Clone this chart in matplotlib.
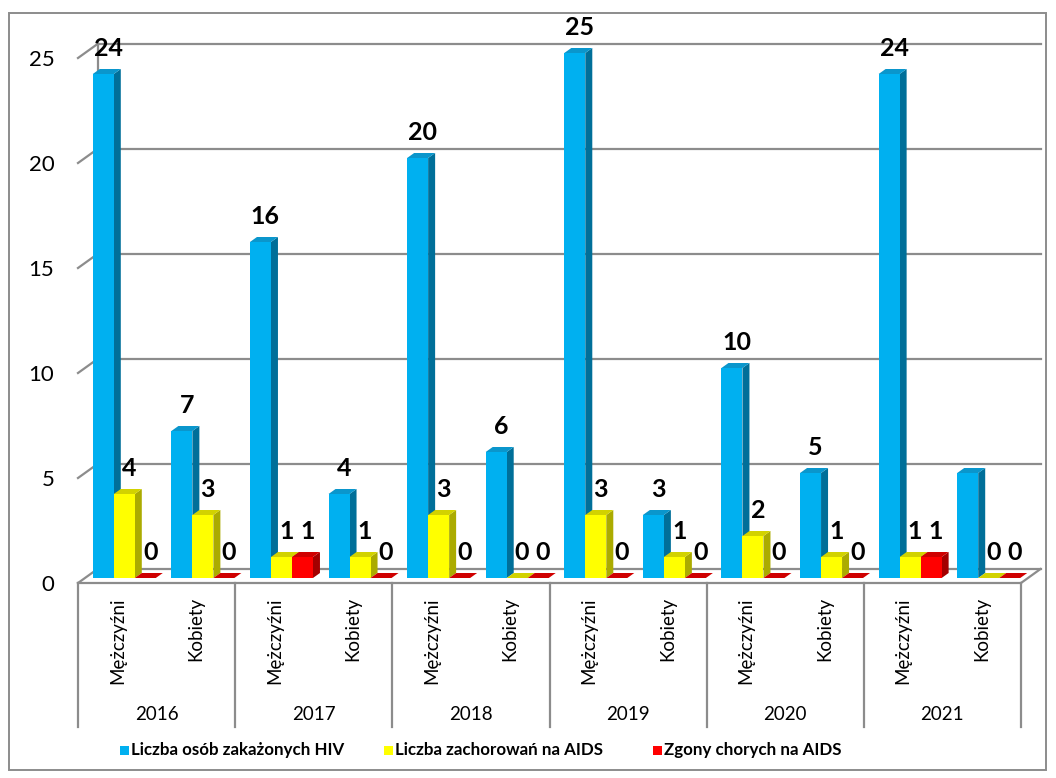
import matplotlib.pyplot as plt
from matplotlib.patches import Polygon, Rectangle

plt.rcParams['font.family'] = ['Lato', 'DejaVu Sans']

years = ['2016', '2017', '2018', '2019', '2020', '2021']
sexes = ['Mężczyźni', 'Kobiety']
hiv = [24, 7, 16, 4, 20, 6, 25, 3, 10, 5, 24, 5]
aids = [4, 3, 1, 1, 3, 0, 3, 1, 2, 1, 1, 0]
deaths = [0, 0, 1, 0, 0, 0, 0, 0, 0, 0, 1, 0]
series_names = ['Liczba osób zakażonych HIV', 'Liczba zachorowań na AIDS',
                'Zgony chorych na AIDS']
yticks = [0, 5, 10, 15, 20, 25]

# front, top, side shades for each series
shades = [('#00B0F0', '#0A96CC', '#006F99'),
          ('#FFFF00', '#D2D200', '#ABAB00'),
          ('#FF0000', '#CF0000', '#A30000')]

W, H = 1056, 778
fig = plt.figure(figsize=(W / 100, H / 100), dpi=100)

# front plane of the plot: x 78..1021 px, value 0 at y=583 px, 21 px per unit
x_left, x_right, y_zero, ppu = 78, 1021, 583, 21.0
cat_px = (x_right - x_left) / 12
ax = fig.add_axes([x_left / W, (H - y_zero) / H, (x_right - x_left) / W, 567 / H])
ax.set_xlim(-0.5, 11.5)
ax.set_ylim(0, 567 / ppu)
for s in ax.spines.values():
    s.set_visible(False)
ax.set_xticks([])
ax.set_yticks(yticks)
ax.tick_params(axis='y', length=0, pad=17, labelsize=16)

def px_x(p):
    return p / cat_px

def px_y(p):
    return p / ppu

# depth offsets
bx, by = px_x(7), px_y(5)        # bar plane
wx, wy = px_x(19.5), px_y(14)    # back wall
ddx, ddy = px_x(7), px_y(5)      # bar depth
bw = px_x(21)                    # bar width

grid = '#8C8C8C'
lw = 1.6

# back wall gridlines and left-side diagonals
for v in yticks:
    ax.plot([-0.5 + wx, 11.5 + wx], [v + wy, v + wy], color=grid, lw=lw,
            clip_on=False, zorder=1)
    ax.plot([-0.5, -0.5 + wx], [v, v + wy], color=grid, lw=lw,
            clip_on=False, zorder=1)
ax.plot([-0.5 + wx, -0.5 + wx], [wy, yticks[-1] + wy], color=grid, lw=lw,
        clip_on=False, zorder=1)

# floor edges
ax.plot([-0.5, 11.5], [0, 0], color=grid, lw=lw, clip_on=False, zorder=1)
ax.plot([11.5, 11.5 + wx], [0, wy], color=grid, lw=lw, clip_on=False, zorder=1)

# 3D bars, drawn left to right so neighbours hide the side faces
series = [hiv, aids, deaths]
z = 2
for i in range(12):
    for s, vals in enumerate(series):
        v = vals[i]
        x0 = i + bx - 1.5 * bw + s * bw
        x1 = x0 + bw
        y0, y1 = by, by + v
        front, top, side = shades[s]
        ax.add_patch(Polygon([(x1, y0), (x1 + ddx, y0 + ddy), (x1 + ddx, y1 + ddy),
                              (x1, y1)], closed=True, fc=side, ec='none', zorder=z,
                             clip_on=False))
        ax.add_patch(Polygon([(x0, y1), (x1, y1), (x1 + ddx, y1 + ddy),
                              (x0 + ddx, y1 + ddy)], closed=True, fc=top, ec='none',
                             zorder=z + 0.1, clip_on=False))
        if v > 0:
            ax.add_patch(Rectangle((x0, y0), bw, v, fc=front, ec='none',
                                   zorder=z + 0.2, clip_on=False))
        z += 0.3
        if s == 0 and i == 11:
            continue
        ax.annotate(str(v), (x0 + bw / 2 + ddx / 2, y1), xytext=(1, 13),
                    textcoords='offset points', ha='center', va='baseline',
                    fontsize=18, fontweight='bold', zorder=50)

# category table under the floor
tbl_bottom = px_y(y_zero - 727)
for k in range(len(years) + 1):
    ax.plot([-0.5 + 2 * k] * 2, [0, tbl_bottom], color=grid, lw=lw, clip_on=False)
for i in range(12):
    ax.text(i, px_y(-14), sexes[i % 2], rotation=90, ha='center', va='top',
            fontsize=13.5)
for k, yr in enumerate(years):
    ax.text(2 * k + 0.5, px_y(583 - 714), yr, ha='center', va='center', fontsize=13.5)

# legend
leg_y = 750
leg_x = [120, 384, 653]
for s in range(3):
    fig.patches.append(Rectangle((leg_x[s] / W, (H - leg_y - 4.5) / H), 9 / W, 9 / H,
                                 transform=fig.transFigure, fc=shades[s][0], ec='none'))
    fig.text((leg_x[s] + 11) / W, (H - leg_y) / H, series_names[s], ha='left',
             va='center', fontsize=12.2, fontweight='bold')

# chart border
fig.patches.append(Rectangle((9 / W, (H - 770) / H), 1037 / W, 757 / H,
                             transform=fig.transFigure, fc='none', ec='#8C8C8C', lw=1.4))

fig.savefig('out.png', dpi=100)
